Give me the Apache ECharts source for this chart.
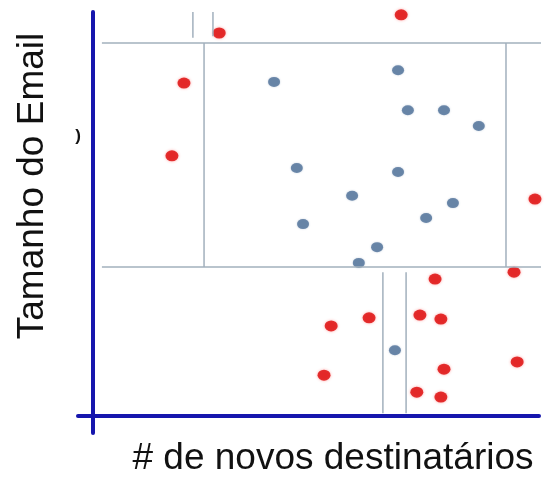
<!DOCTYPE html>
<html>
<head>
<meta charset="utf-8">
<script src="https://cdn.jsdelivr.net/npm/echarts@6/dist/echarts.min.js"></script>
<style>
    html, body { margin: 0; padding: 0; background: #fff; }
    #main { width: 547px; height: 479px; }
</style>
</head>
<body>
<div id="main"></div>
<script>
// points, x = novos destinatarios, y = tamanho
var redPoints = [
    [69.1, 99.3], [28.3, 94.8], [20.4, 82.4], [17.7, 64.4], [99.1, 53.7],
    [94.4, 35.6], [76.7, 33.9], [53.4, 22.3], [61.9, 24.3], [73.3, 25.0],
    [78.0, 24.0], [51.8, 10.1], [78.7, 11.6], [95.1, 13.4], [72.6, 5.9],
    [78.0, 4.7]
];
var bluePoints = [
    [40.6, 82.7], [68.4, 85.6], [70.6, 75.7], [78.7, 75.7], [86.5, 71.8],
    [45.7, 61.4], [68.4, 60.4], [58.1, 54.5], [80.7, 52.7], [47.1, 47.5],
    [74.7, 49.0], [63.7, 41.8], [59.6, 37.9], [67.7, 16.3]
];
// decision boundaries, each one a segment [start, end]
var boundaries = [
    [[2.0, 92.3], [101.8, 92.3]],
    [[2.0, 36.9], [101.8, 36.9]],
    [[24.9, 92.3], [24.9, 36.9]],
    [[92.6, 92.3], [92.6, 36.9]],
    [[22.4, 100], [22.4, 93.6]],
    [[26.9, 100], [26.9, 94.0]],
    [[65.0, 35.6], [65.0, 0.7]],
    [[70.2, 35.6], [70.2, 0.7]]
];
var xTitle = '# de novos destinatários';
var yTitle = 'Tamanho do Email';

var chart = echarts.init(document.getElementById('main'));

var series = [];
for (var i = 0; i < boundaries.length; i++) {
    series.push({
        type: 'line',
        data: boundaries[i],
        symbol: 'none',
        clip: false,
        silent: true,
        lineStyle: {color: '#a2b0bd', width: 1.5}
    });
}
series.push({
    name: 'spam',
    type: 'scatter',
    data: redPoints,
    symbolSize: [13, 11],
    itemStyle: {color: '#dc0606', shadowBlur: 3, shadowColor: 'rgba(255,40,40,0.5)'}
});
series.push({
    name: 'normal',
    type: 'scatter',
    data: bluePoints,
    symbolSize: [12, 10],
    itemStyle: {color: '#4f7099', shadowBlur: 2, shadowColor: 'rgba(79,112,153,0.4)'}
});

var axisStyle = {show: true, onZero: true, lineStyle: {color: '#1616ad', width: 4}};

var option = {
    animation: false,
    grid: {left: 78, right: 8, top: 12, bottom: 46},
    xAxis: {
        type: 'value',
        min: -3.36,
        max: 100,
        axisLine: axisStyle,
        axisTick: {show: false},
        axisLabel: {show: false},
        splitLine: {show: false}
    },
    yAxis: {
        type: 'value',
        min: -4.2,
        max: 100,
        axisLine: axisStyle,
        axisTick: {show: false},
        axisLabel: {show: false},
        splitLine: {show: false}
    },
    graphic: [
        {
            type: 'text',
            x: 333,
            y: 459,
            style: {
                text: xTitle,
                font: '37px "Liberation Sans", Arial, sans-serif',
                fill: '#111',
                textAlign: 'center',
                textVerticalAlign: 'middle'
            }
        },
        {
            type: 'text',
            x: 33,
            y: 186,
            rotation: Math.PI / 2,
            style: {
                text: yTitle,
                font: '37px "Liberation Sans", Arial, sans-serif',
                fill: '#111',
                textAlign: 'center',
                textVerticalAlign: 'middle'
            }
        },
        {
            type: 'text',
            x: 78,
            y: 136,
            style: {
                text: ')',
                font: 'bold 17px "Liberation Sans", Arial, sans-serif',
                fill: '#111',
                textAlign: 'center',
                textVerticalAlign: 'middle'
            }
        }
    ],
    series: series
};

chart.setOption(option);
</script>
</body>
</html>
